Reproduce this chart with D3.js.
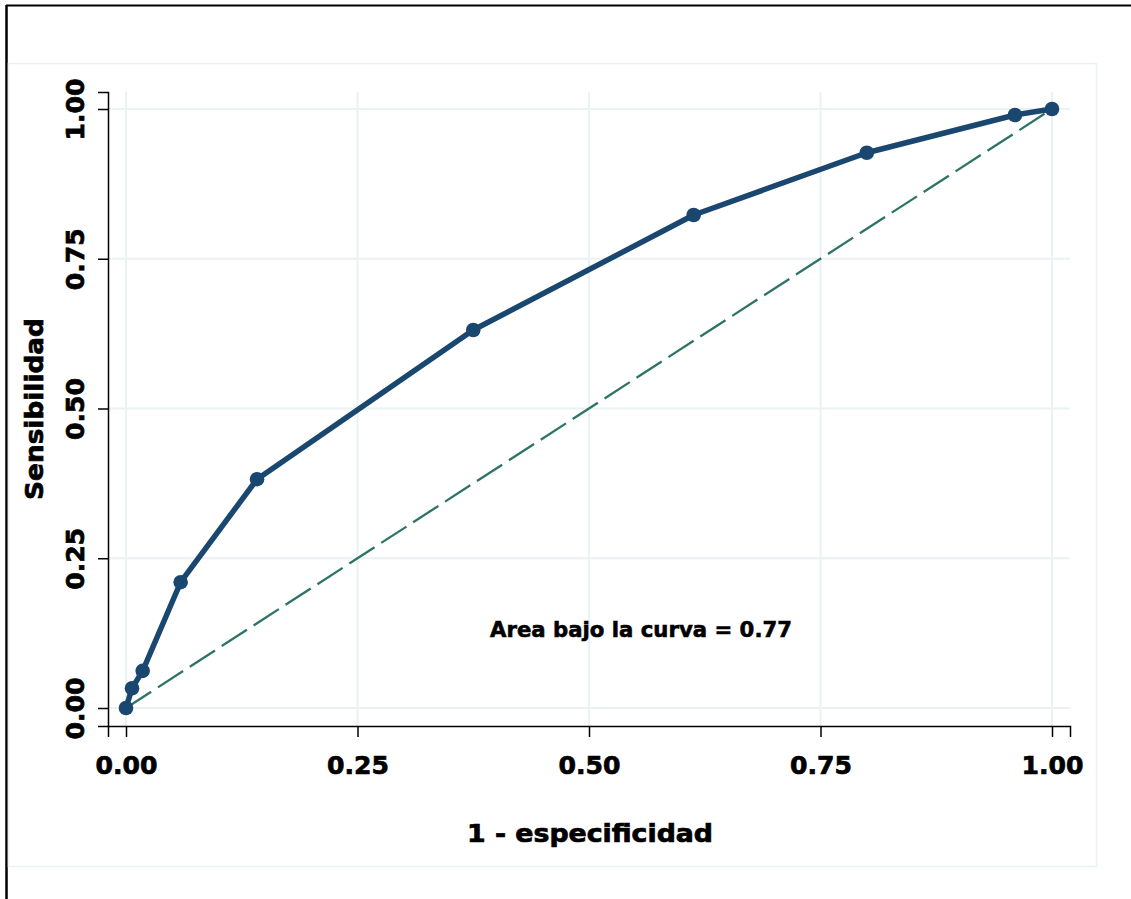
<!DOCTYPE html>
<html><head><meta charset="utf-8">
<script src="https://cdn.jsdelivr.net/npm/d3@7"></script>
<style>html,body{margin:0;padding:0;background:#fff;}svg{display:block;}</style>
</head><body>
<script>
const fpr = [0, 0.0065, 0.018, 0.059, 0.1415, 0.375, 0.613, 0.800, 0.960, 1];
const tpr = [0, 0.033, 0.062, 0.210, 0.382, 0.631, 0.823, 0.927, 0.990, 1];
const xTicks = [0, 0.25, 0.5, 0.75, 1];
const yTicks = [0, 0.25, 0.5, 0.75, 1];
const xTitle = "1 - especificidad";
const yTitle = "Sensibilidad";
const note = "Area bajo la curva = 0.77";

const W = 1131, H = 899;
const svg = d3.select("body").append("svg").attr("width", W).attr("height", H);
const font = "'DejaVu Sans', Verdana, sans-serif";

// frame borders
svg.append("line").attr("x1",6).attr("x2",W).attr("y1",5.5).attr("y2",5.5).attr("stroke","#000").attr("stroke-width",2);
svg.append("line").attr("x1",6.5).attr("x2",6.5).attr("y1",5).attr("y2",H).attr("stroke","#000").attr("stroke-width",2.5);
svg.append("rect").attr("x",8.5).attr("y",63.5).attr("width",1088).attr("height",803)
  .attr("fill","none").attr("stroke","#eaf2f3").attr("stroke-width",1.5);

const x = d3.scaleLinear().domain([-18/926, 1 + 18/926]).range([108, 1070]);
const y = d3.scaleLinear().domain([-18/599, 1 + 17/599]).range([726, 92]);

// grid
const g = svg.append("g");
g.selectAll(".vg").data(xTicks).join("line")
  .attr("x1", d=>x(d)).attr("x2", d=>x(d)).attr("y1", 92).attr("y2", 726)
  .attr("stroke","#eaf2f3").attr("stroke-width",2);
g.selectAll(".hg").data(yTicks).join("line")
  .attr("x1", 108).attr("x2", 1070).attr("y1", d=>y(d)).attr("y2", d=>y(d))
  .attr("stroke","#eaf2f3").attr("stroke-width",2);

// axes
const fmt = d3.format(".2f");
const xAxis = svg.append("g").attr("transform","translate(0,726)")
  .call(d3.axisBottom(x).tickValues(xTicks).tickFormat(fmt).tickSize(11).tickPadding(18));
const yAxis = svg.append("g").attr("transform","translate(108,0)")
  .call(d3.axisLeft(y).tickValues(yTicks).tickFormat(fmt).tickSize(10).tickPadding(0));
[xAxis, yAxis].forEach(a => {
  a.select(".domain").attr("stroke","#000").attr("stroke-width",1.5);
  a.selectAll(".tick line").attr("stroke","#000").attr("stroke-width",1.5);
  a.selectAll("text").attr("font-family", font).attr("font-weight","bold").attr("font-size",25).attr("fill","#000")
    .attr("stroke","#000").attr("stroke-width",0.7)
    .attr("textLength", 62).attr("lengthAdjust","spacingAndGlyphs");
});
xAxis.selectAll(".tick text").attr("y", 48).attr("dy", 0);
yAxis.selectAll(".tick text")
  .attr("x", 0).attr("y", 0).attr("dy", 0)
  .attr("text-anchor","middle")
  .attr("transform", "translate(-24,0) rotate(-90)");

// titles
svg.append("text").attr("x", 590).attr("y", 842).attr("text-anchor","middle")
  .attr("font-family", font).attr("font-weight","bold").attr("font-size",24)
  .attr("stroke","#000").attr("stroke-width",0.7)
  .attr("textLength", 246).attr("lengthAdjust","spacingAndGlyphs").text(xTitle);
svg.append("text").attr("transform","translate(43,409) rotate(-90)").attr("text-anchor","middle")
  .attr("font-family", font).attr("font-weight","bold").attr("font-size",24)
  .attr("stroke","#000").attr("stroke-width",0.7)
  .attr("textLength", 182).attr("lengthAdjust","spacingAndGlyphs").text(yTitle);

// diagonal reference
svg.append("line").attr("x1", x(0)).attr("y1", y(0)).attr("x2", x(1)).attr("y2", y(1))
  .attr("stroke","#2d7466").attr("stroke-width",2.3).attr("stroke-dasharray","30,8");

// ROC curve
const pts = fpr.map((v,i)=>[v, tpr[i]]);
svg.append("path").datum(pts)
  .attr("d", d3.line().x(d=>x(d[0])).y(d=>y(d[1])))
  .attr("fill","none").attr("stroke","#1a476f").attr("stroke-width",5.5).attr("stroke-linejoin","round");
svg.selectAll(".pt").data(pts).join("circle")
  .attr("cx", d=>x(d[0])).attr("cy", d=>y(d[1])).attr("r",7.3).attr("fill","#1a476f");

// annotation
svg.append("text").attr("x", 490).attr("y", 637)
  .attr("font-family", font).attr("font-weight","bold").attr("font-size",21.5)
  .attr("stroke","#000").attr("stroke-width",0.6)
  .attr("textLength", 302).attr("lengthAdjust","spacingAndGlyphs").text(note);
</script>
</body></html>
